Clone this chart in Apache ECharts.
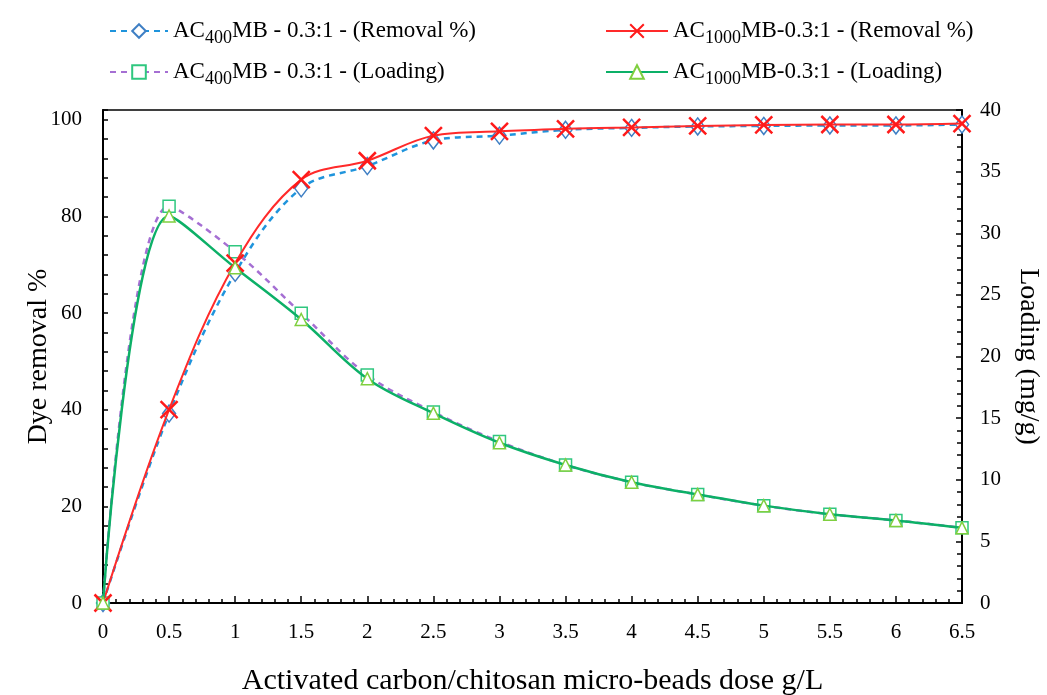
<!DOCTYPE html>
<html>
<head>
<meta charset="utf-8">
<script src="https://cdn.jsdelivr.net/npm/echarts@6/dist/echarts.min.js"></script>
<style>html,body{margin:0;padding:0;background:#fff}#c{width:1047px;height:695px}</style>
</head>
<body>
<div id="c"></div>
<script>
const doses = [0, 0.5, 1, 1.5, 2, 2.5, 3, 3.5, 4, 4.5, 5, 5.5, 6, 6.5];
const removal400 = [0, 39.2, 68.3, 85.8, 90.4, 95.7, 96.7, 97.9, 98.3, 98.6, 98.7, 98.8, 98.8, 99.0];
const removal1000 = [0, 40.0, 70.3, 87.6, 91.5, 96.7, 97.6, 98.1, 98.4, 98.7, 98.9, 99.0, 99.0, 99.2];
const loading400 = [0, 32.2, 28.5, 23.5, 18.5, 15.5, 13.1, 11.2, 9.8, 8.8, 7.9, 7.2, 6.7, 6.1];
const loading1000 = [0, 31.4, 27.2, 23.0, 18.2, 15.4, 13.0, 11.2, 9.8, 8.8, 7.9, 7.2, 6.7, 6.1];
const seriesNames = [
  'AC400MB - 0.3:1 - (Removal %)',
  'AC400MB - 0.3:1 - (Loading)',
  'AC1000MB-0.3:1 - (Removal %)',
  'AC1000MB-0.3:1 - (Loading)'
];
function legendFmt(name) {
  const m = name.match(/^AC(\d+)(.*)$/);
  return '{b|AC}{s|' + m[1] + '}{b|' + m[2] + '}';
}
const pairs = a => doses.map((d, i) => [d, a[i]]);
const FONT = 'Liberation Serif';
const chart = echarts.init(document.getElementById('c'));
const legendText = {
  fontFamily: FONT, color: '#000',
  rich: {
    b: {fontFamily: FONT, fontSize: 23, color: '#000', lineHeight: 32, verticalAlign: 'middle'},
    s: {fontFamily: FONT, fontSize: 18, color: '#000', lineHeight: 32, verticalAlign: 'bottom', padding: [14, 0, 0, 0]}
  }
};
chart.setOption({
  animation: false,
  backgroundColor: '#fff',
  legend: [
    {data: [seriesNames[0], seriesNames[1]], orient: 'vertical', left: 104, top: 10, itemWidth: 58, itemHeight: 17, itemGap: 9, formatter: legendFmt, textStyle: legendText},
    {data: [seriesNames[2], seriesNames[3]], orient: 'vertical', left: 600, top: 10, itemWidth: 62, itemHeight: 17, itemGap: 9, formatter: legendFmt, textStyle: legendText}
  ],
  grid: {left: 103, right: 85, top: 110, bottom: 92, show: true, borderColor: '#000', borderWidth: 1.5, containLabel: false, outerBoundsMode: 'none'},
  xAxis: {
    type: 'value', min: 0, max: 6.5, interval: 0.5,
    name: 'Activated carbon/chitosan micro-beads dose g/L', nameLocation: 'middle', nameGap: 63, nameMoveOverlap: false,
    nameTextStyle: {fontFamily: FONT, fontSize: 30, color: '#000'},
    axisLine: {lineStyle: {color: '#000', width: 2}},
    axisTick: {inside: true, length: 7, lineStyle: {color: '#000', width: 1.5}},
    minorTick: {show: true, splitNumber: 5, length: 4, lineStyle: {color: '#000', width: 1.5}},
    axisLabel: {fontFamily: FONT, fontSize: 21, color: '#000', margin: 19},
    splitLine: {show: false}, minorSplitLine: {show: false}
  },
  yAxis: [
    {
      type: 'value', min: 0, max: 102, interval: 4, position: 'left',
      name: 'Dye removal %', nameLocation: 'middle', nameGap: 50, nameMoveOverlap: false,
      nameTextStyle: {fontFamily: FONT, fontSize: 28, color: '#000'},
      axisLine: {show: true, lineStyle: {color: '#000', width: 2}},
      axisTick: {inside: true, length: 5, lineStyle: {color: '#000', width: 1.5}},
      axisLabel: {fontFamily: FONT, fontSize: 21, color: '#000', margin: 21, formatter: v => (v % 20 === 0 ? String(v) : '')},
      splitLine: {show: false}
    },
    {
      type: 'value', min: 0, max: 40, interval: 5, position: 'right',
      name: 'Loading (mg/g)', nameLocation: 'middle', nameGap: 52, nameRotate: -90, nameMoveOverlap: false,
      nameTextStyle: {fontFamily: FONT, fontSize: 28, color: '#000'},
      axisLine: {show: true, lineStyle: {color: '#000', width: 2}},
      axisTick: {inside: true, length: 6, lineStyle: {color: '#000', width: 1.5}},
      minorTick: {show: true, splitNumber: 5, length: 5, lineStyle: {color: '#000', width: 1.5}},
      axisLabel: {fontFamily: FONT, fontSize: 21, color: '#000', margin: 18},
      splitLine: {show: false}, minorSplitLine: {show: false}
    }
  ],
  series: [
    {
      name: seriesNames[0], type: 'line', yAxisIndex: 0, data: pairs(removal400), smooth: 0.35, clip: false,
      symbol: 'diamond', symbolSize: [13, 17],
      itemStyle: {color: '#fff', borderColor: '#3f7fc4', borderWidth: 1.5},
      lineStyle: {color: '#1f94dc', width: 2.5, type: [6, 5]}, z: 2
    },
    {
      name: seriesNames[1], type: 'line', yAxisIndex: 1, data: pairs(loading400), smooth: 0.35, clip: false,
      symbol: 'rect', symbolSize: 12,
      itemStyle: {color: '#fff', borderColor: '#2fc77f', borderWidth: 1.5},
      lineStyle: {color: '#a56fd3', width: 2.5, type: [6, 5]}, z: 2
    },
    {
      name: seriesNames[2], type: 'line', yAxisIndex: 0, data: pairs(removal1000), smooth: 0.35, clip: false,
      symbol: 'path://M0,0L10,10M10,0L0,10', symbolSize: 17,
      itemStyle: {color: '#ff1a1a', borderColor: '#ff1a1a', borderWidth: 2.5},
      lineStyle: {color: '#ff2a2a', width: 2}, z: 3
    },
    {
      name: seriesNames[3], type: 'line', yAxisIndex: 1, data: pairs(loading1000), smooth: 0.35, clip: false,
      symbol: 'triangle', symbolSize: 12,
      itemStyle: {color: '#fff', borderColor: '#7fcf3f', borderWidth: 1.5},
      lineStyle: {color: '#0cb067', width: 2.5}, z: 3
    }
  ]
});
</script>
</body>
</html>
